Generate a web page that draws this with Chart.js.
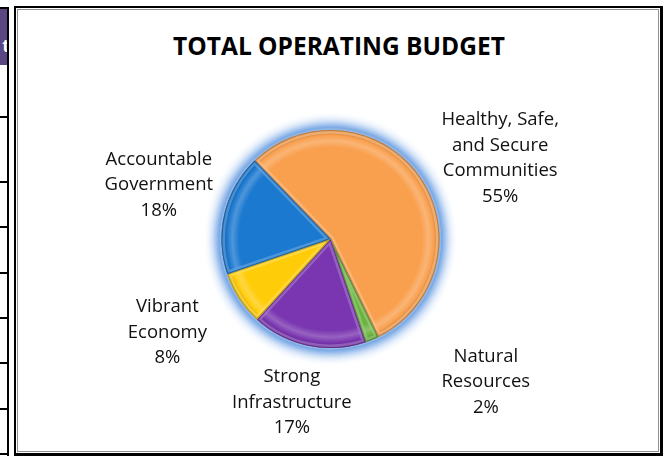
<!DOCTYPE html>
<html lang="en">
<head>
<meta charset="UTF-8">
<title>Total Operating Budget</title>
<script src="https://cdn.jsdelivr.net/npm/chart.js"></script>
<style>
    * { margin: 0; padding: 0; box-sizing: border-box; }

    body {
        width: 663px;
        height: 457px;
        position: relative;
        overflow: hidden;
        background: #fff;
        font-family: 'Open Sans', 'Liberation Sans', sans-serif;
    }

    /* edge of the neighbouring table */
    .side-table {
        position: absolute;
        left: 0;
        top: 7px;
        width: 9px;
        height: 449px;
        border-right: 2px solid #000;
        border-top: 2px solid #000;
        overflow: hidden;
    }
    .side-table .head {
        height: 56px;
        background: #5c4785;
        color: #fff;
        font-weight: bold;
        font-size: 18px;
        line-height: 72px;
        text-align: right;
        white-space: nowrap;
        overflow: hidden;
        margin-right: -3px;
    }
    .side-table .row { border-bottom: 2px solid #000; }

    .frame {
        position: absolute;
        left: 14px;
        top: 6px;
        width: 649px;
        height: 450px;
        border: 2px solid #000;
        border-right-width: 3px;
        border-bottom-width: 3px;
    }
    .frame .inner {
        position: absolute;
        inset: 1px;
        border: 1px solid #8f8f8f;
    }

    .title {
        position: absolute;
        left: 0;
        width: 678px;
        top: 29px;
        text-align: center;
        font-weight: bold;
        font-size: 24.5px;
        line-height: 34px;
        color: #000;
    }

    .chart-box {
        position: absolute;
        left: 0;
        top: 0;
        width: 663px;
        height: 457px;
    }
</style>
</head>
<body>
    <div class="side-table">
        <div class="head">t</div>
        <div class="row" style="height:53px"></div>
        <div class="row" style="height:65px"></div>
        <div class="row" style="height:45px"></div>
        <div class="row" style="height:46px"></div>
        <div class="row" style="height:45px"></div>
        <div class="row" style="height:45px"></div>
        <div class="row" style="height:46px"></div>
        <div class="row" style="height:45px"></div>
    </div>

    <div class="frame"><div class="inner"></div></div>
    <div class="title">TOTAL OPERATING BUDGET</div>

    <div class="chart-box">
        <canvas id="budgetChart"></canvas>
    </div>

<script>
    // budget areas, each label split into its printed lines
    const categories = [
        ['Healthy, Safe,', 'and Secure', 'Communities'],
        ['Natural', 'Resources'],
        ['Strong', 'Infrastructure'],
        ['Vibrant', 'Economy'],
        ['Accountable', 'Government']
    ];
    const shares = [55, 2, 17, 8, 18];   // percent of total operating budget
    const sliceColors = ['#f9a04f', '#6bb33f', '#7a36b0', '#ffcc0a', '#1c79d0'];

    // where each label sits: turn (deg) away from the slice middle, distance from centre (px)
    const labelPlacement = [
        { turn: 9.5, dist: 188 },
        { turn: -25, dist: 211 },
        { turn: 1.5, dist: 168 },
        { turn: 3.4, dist: 188 },
        { turn: 3.9, dist: 180 }
    ];

    function shade(hex, amt) {
        const n = parseInt(hex.slice(1), 16);
        let r = n >> 16, g = (n >> 8) & 255, b = n & 255;
        const mix = amt < 0 ? 0 : 255, t = Math.abs(amt);
        r = Math.round(r + (mix - r) * t);
        g = Math.round(g + (mix - g) * t);
        b = Math.round(b + (mix - b) * t);
        return `rgb(${r},${g},${b})`;
    }

    // radial fill giving each slice a bevelled rim
    function sliceFill(context) {
        const base = sliceColors[context.dataIndex];
        const area = context.chart.chartArea;
        if (!area) return base;
        const cx = (area.left + area.right) / 2;
        const cy = (area.top + area.bottom) / 2;
        const r = Math.min(area.right - area.left, area.bottom - area.top) / 2;
        const g = context.chart.ctx.createRadialGradient(cx, cy, 0, cx, cy, r);
        g.addColorStop(0, base);
        g.addColorStop(0.84, base);
        g.addColorStop(0.9, shade(base, 0.22));
        g.addColorStop(0.95, base);
        g.addColorStop(1, shade(base, -0.3));
        return g;
    }

    // soft blue glow behind the pie
    const pieGlow = {
        id: 'pieGlow',
        beforeDatasetsDraw(chart) {
            const arc = chart.getDatasetMeta(0).data[0];
            if (!arc) return;
            const ctx = chart.ctx;
            ctx.save();
            ctx.shadowColor = 'rgba(70,135,220,1)';
            ctx.shadowBlur = 14;
            ctx.fillStyle = '#8fb6e6';
            ctx.beginPath();
            ctx.arc(arc.x, arc.y, arc.outerRadius + 2, 0, Math.PI * 2);
            ctx.fill();
            ctx.fill();
            ctx.restore();
        }
    };

    // light inner edge and soft dark outline on every slice
    const sliceBevel = {
        id: 'sliceBevel',
        afterDatasetsDraw(chart) {
            const ctx = chart.ctx;
            chart.getDatasetMeta(0).data.forEach((arc, i) => {
                const base = sliceColors[i];
                ctx.save();
                ctx.beginPath();
                ctx.moveTo(arc.x, arc.y);
                ctx.arc(arc.x, arc.y, arc.outerRadius, arc.startAngle, arc.endAngle);
                ctx.closePath();
                ctx.clip();
                ctx.lineJoin = 'round';
                ctx.strokeStyle = shade(base, 0.3);
                ctx.globalAlpha = 0.7;
                ctx.lineWidth = 7;
                ctx.stroke();
                ctx.globalAlpha = 0.8;
                ctx.strokeStyle = shade(base, -0.3);
                ctx.lineWidth = 2;
                ctx.stroke();
                ctx.restore();
            });
        }
    };

    // category names and percentages outside the pie
    const sliceLabels = {
        id: 'sliceLabels',
        afterDatasetsDraw(chart) {
            const ctx = chart.ctx;
            const lineH = 25.5;
            ctx.save();
            ctx.font = '18.5px "Open Sans"';
            ctx.fillStyle = '#111';
            ctx.textAlign = 'center';
            ctx.textBaseline = 'middle';
            chart.getDatasetMeta(0).data.forEach((arc, i) => {
                const place = labelPlacement[i];
                const a = (arc.startAngle + arc.endAngle) / 2 + place.turn * Math.PI / 180;
                const x = arc.x + Math.cos(a) * place.dist;
                const y = arc.y + Math.sin(a) * place.dist;
                const lines = [...categories[i], shares[i] + '%'];
                const top = y - (lines.length - 1) * lineH / 2;
                lines.forEach((t, k) => ctx.fillText(t, x, top + k * lineH));
            });
            ctx.restore();
        }
    };

    new Chart(document.getElementById('budgetChart'), {
        type: 'pie',
        data: {
            labels: categories.map(l => l.join(' ')),
            datasets: [{
                data: shares,
                backgroundColor: sliceFill,
                borderWidth: 0
            }]
        },
        options: {
            responsive: true,
            maintainAspectRatio: false,
            animation: false,
            events: [],
            rotation: -44,
            layout: {
                padding: { left: 221.5, right: 223.5, top: 130, bottom: 109 }
            },
            plugins: {
                legend: { display: false },
                tooltip: { enabled: false }
            }
        },
        plugins: [pieGlow, sliceBevel, sliceLabels]
    });
</script>
</body>
</html>
